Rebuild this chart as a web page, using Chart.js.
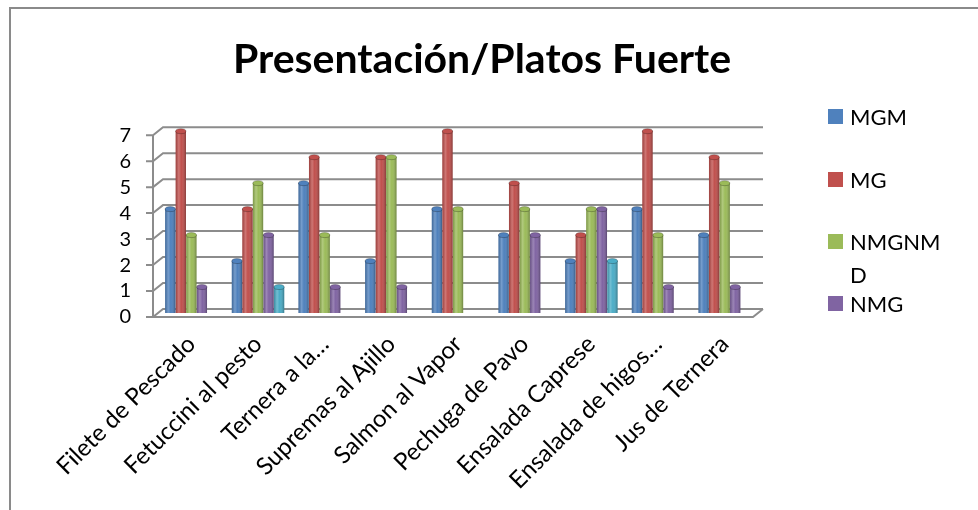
<!DOCTYPE html>
<html>
<head>
<meta charset="utf-8">
<title>Presentación/Platos Fuerte</title>
<script src="https://cdn.jsdelivr.net/npm/chart.js@4.4.1/dist/chart.umd.min.js"></script>
<style>
  html, body { margin: 0; padding: 0; background: #fff; }
  body { width: 978px; height: 510px; overflow: hidden; position: relative; font-family: Lato, 'Open Sans', sans-serif; }
  #marco { position: absolute; left: 9px; top: 7px; width: 1100px; height: 600px; border: 2px solid #8a8a8a; box-sizing: border-box; }
  #grafico { position: absolute; left: 0; top: 0; }
  .item { position: absolute; left: 828px; width: 140px; height: 70px; font-size: 22px; line-height: 33px; color: #000; }
  .item .caja { position: absolute; left: 0; top: 9px; width: 15px; height: 15px; }
  .item .txt { position: absolute; left: 22px; top: 0; width: 96px; word-break: break-all; }
</style>
</head>
<body>
<div id="marco"></div>
<canvas id="grafico" width="978" height="510"></canvas>
<div id="leyenda"></div>
<script>
// platos evaluados
const platos = ['Filete de Pescado', 'Fetuccini al pesto', 'Ternera a la…', 'Supremas al Ajillo',
  'Salmon al Vapor', 'Pechuga de Pavo', 'Ensalada Caprese', 'Ensalada de higos…', 'Jus de Ternera'];

// votos por categoria
const mgm    = [4, 2, 5, 2, 4, 3, 2, 4, 3];
const mg     = [7, 4, 6, 6, 7, 5, 3, 7, 6];
const nmgnmd = [3, 5, 3, 6, 4, 4, 4, 3, 5];
const nmg    = [1, 3, 1, 1, 0, 3, 4, 1, 1];
const otros  = [0, 1, 0, 0, 0, 0, 2, 0, 0];

const series = ['MGM', 'MG', 'NMGNMD', 'NMG', 'Otros'];
const valores = [mgm, mg, nmgnmd, nmg, otros];
const colores = ['#4F81BD', '#C0504D', '#9BBB59', '#8064A2', '#4BACC6'];
const yTicks = [0, 1, 2, 3, 4, 5, 6, 7];

// la serie "Otros" no sale en la leyenda
const enLeyenda = 4;
const leyendaY = [116, 179, 241, 303];

const fuente = 'Lato, "Open Sans", sans-serif';
const gris = '#8c8c8c';

// paredes y piso con algo de profundidad
const pared3d = {
  id: 'pared3d',
  beforeDatasetsDraw(chart) {
    const { ctx, chartArea: a, scales: { y } } = chart;
    const dx = 5, dy = 4;
    const top = y.getPixelForValue(yTicks[yTicks.length - 1]);
    const cero = y.getPixelForValue(0);
    ctx.save();
    ctx.strokeStyle = gris;
    ctx.lineWidth = 2;
    ctx.beginPath();
    ctx.moveTo(a.left - dx, top + dy);
    ctx.lineTo(a.left - dx, cero + dy);
    yTicks.forEach(v => {
      const py = y.getPixelForValue(v);
      ctx.moveTo(a.left - dx - 7, py + dy);
      ctx.lineTo(a.left - dx, py + dy);
      ctx.lineTo(a.left + dx, py - dy);
      ctx.lineTo(a.right + dx, py - dy);
    });
    ctx.moveTo(a.left - dx, cero + dy);
    ctx.lineTo(a.right - dx, cero + dy);
    ctx.lineTo(a.right + dx, cero - dy);
    ctx.stroke();
    ctx.restore();
  }
};

// sombreado tipo cilindro sobre cada barra
const cilindros = {
  id: 'cilindros',
  afterDatasetsDraw(chart) {
    const ctx = chart.ctx;
    chart.data.datasets.forEach((ds, i) => {
      const meta = chart.getDatasetMeta(i);
      meta.data.forEach((bar, j) => {
        if (!ds.data[j]) return;
        const { x, y, base, width } = bar.getProps(['x', 'y', 'base', 'width'], true);
        const l = x - width / 2;
        ctx.save();
        const g = ctx.createLinearGradient(l, 0, l + width, 0);
        g.addColorStop(0, 'rgba(0,0,0,0.18)');
        g.addColorStop(0.3, 'rgba(255,255,255,0.22)');
        g.addColorStop(0.55, 'rgba(255,255,255,0)');
        g.addColorStop(1, 'rgba(0,0,0,0.30)');
        ctx.fillStyle = g;
        ctx.fillRect(l, y, width, base - y);
        ctx.beginPath();
        ctx.ellipse(x, y, width / 2, 2.5, 0, 0, Math.PI * 2);
        ctx.fillStyle = ds.backgroundColor;
        ctx.fill();
        ctx.strokeStyle = 'rgba(0,0,0,0.25)';
        ctx.lineWidth = 1;
        ctx.stroke();
        ctx.restore();
      });
    });
  }
};

new Chart(document.getElementById('grafico'), {
  type: 'bar',
  data: {
    labels: platos,
    datasets: series.map((s, i) => ({
      label: s,
      data: valores[i],
      backgroundColor: colores[i],
      borderWidth: 0,
      categoryPercentage: 0.79,
      barPercentage: 0.98
    }))
  },
  options: {
    responsive: false,
    animation: false,
    layout: { padding: { left: 0, top: 0, right: 14, bottom: 0 } },
    plugins: {
      legend: { display: false },
      tooltip: { enabled: false },
      title: {
        display: true,
        text: 'Presentación/Platos Fuerte',
        color: '#000',
        font: { family: fuente, size: 41, weight: 'bold' },
        padding: { top: 35, bottom: 47 }
      }
    },
    scales: {
      x: {
        grid: { display: false },
        border: { display: false },
        ticks: {
          autoSkip: false, maxRotation: 45, minRotation: 45,
          color: '#000', padding: 9,
          font: { family: fuente, size: 24 }
        },
        afterFit: s => { s.height = 197; }
      },
      y: {
        min: 0, max: 7,
        grid: { display: false, drawTicks: false },
        border: { display: false },
        ticks: {
          stepSize: 1, autoSkip: false, color: '#000', padding: 27, labelOffset: 4,
          font: { family: fuente, size: 20 }
        },
        afterFit: s => { s.width = 158; }
      },
      derecha: {
        type: 'linear', position: 'right', display: true,
        grid: { display: false, drawTicks: false },
        border: { display: false },
        ticks: { display: false },
        afterFit: s => { s.width = 206; }
      }
    }
  },
  plugins: [pared3d, cilindros]
});

// leyenda a la derecha
const ley = document.getElementById('leyenda');
for (let i = 0; i < enLeyenda; i++) {
  const d = document.createElement('div');
  d.className = 'item';
  d.style.top = (leyendaY[i] - 16.5) + 'px';
  d.innerHTML = '<span class="caja" style="background:' + colores[i] + '"></span><span class="txt">' + series[i] + '</span>';
  ley.appendChild(d);
}
</script>
</body>
</html>
